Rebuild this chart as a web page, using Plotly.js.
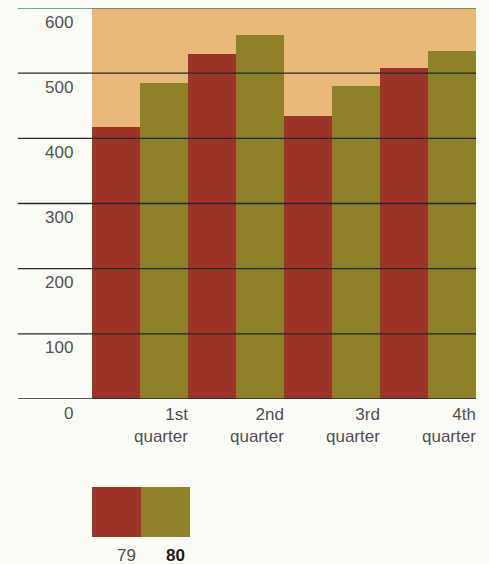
<!DOCTYPE html>
<html>
<head>
<meta charset="utf-8">
<script src="https://cdn.plot.ly/plotly-3.0.1.min.js"></script>
<style>
  html, body { margin: 0; padding: 0; background: #fcfcf7; }
  #chart { width: 489px; height: 564px; }
</style>
</head>
<body>
<div id="chart"></div>
<script>
// Quarterly figures for two years
const quarters = ['1st<br>quarter', '2nd<br>quarter', '3rd<br>quarter', '4th<br>quarter'];
const years = ['79', '80'];
const values79 = [417, 529, 434, 508];
const values80 = [485, 558, 480, 534];
const yTicks = [0, 100, 200, 300, 400, 500, 600];

const red = '#9c3428';
const olive = '#8d8229';
const tan = '#eab97a';
const textColor = '#505050';
const font = { family: 'Liberation Sans, Arial, sans-serif', size: 17, color: textColor };

const catIdx = quarters.map((q, i) => i);

const traces = [
  { type: 'bar', name: years[0], x: catIdx, y: values79, marker: { color: red, line: { width: 0 } }, hoverinfo: 'skip' },
  { type: 'bar', name: years[1], x: catIdx, y: values80, marker: { color: olive, line: { width: 0 } }, hoverinfo: 'skip' }
];

// Horizontal rules reaching out past the left edge of the plot
const gridLeft = -0.193;
const shapes = yTicks.map(v => ({
  type: 'line', xref: 'paper', yref: 'y', x0: gridLeft, x1: 1, y0: v, y1: v,
  layer: 'above',
  line: { color: v === 600 ? '#3f8465' : '#1e2a2a', width: 1.4 }
}));

// Legend swatches below the chart
const swW = 0.1276;
[red, olive].forEach((c, i) => {
  shapes.push({
    type: 'rect', xref: 'paper', yref: 'paper',
    x0: i * swW, x1: (i + 1) * swW, y0: -0.353, y1: -0.225,
    fillcolor: c, line: { width: 0 }
  });
});

const annotations = [];
// Value labels sit just beneath each rule
yTicks.forEach(v => {
  annotations.push({
    xref: 'paper', yref: 'y', x: -0.045, y: v, xanchor: 'right', yanchor: 'middle',
    yshift: -14, text: String(v), showarrow: false, font: font
  });
});
// Quarter labels aligned to the right edge of each pair of bars
quarters.forEach((q, i) => {
  annotations.push({
    xref: 'x', yref: 'paper', x: i + 0.5, y: 0, xanchor: 'right', yanchor: 'top',
    yshift: -4, xshift: 2, align: 'right', text: q, showarrow: false, font: font
  });
});
// Legend labels
years.forEach((yr, i) => {
  annotations.push({
    xref: 'paper', yref: 'paper', x: (i + 1) * swW - 0.008, y: -0.37, xanchor: 'right', yanchor: 'top',
    text: i === 1 ? '<b>' + yr + '</b>' : yr, showarrow: false,
    font: Object.assign({}, font, { color: i === 1 ? '#1a1a1a' : textColor })
  });
});

const layout = {
  width: 489, height: 564,
  margin: { l: 92, r: 13, t: 8, b: 165 },
  paper_bgcolor: '#fcfcf7',
  plot_bgcolor: tan,
  barmode: 'group', bargap: 0, bargroupgap: 0,
  showlegend: false,
  xaxis: { type: 'linear', range: [-0.5, 3.5], showticklabels: false, showgrid: false, zeroline: false, ticks: '' },
  yaxis: { range: [0, 600], showticklabels: false, showgrid: false, zeroline: false, ticks: '' },
  shapes: shapes,
  annotations: annotations,
  font: font
};

Plotly.newPlot('chart', traces, layout, { displayModeBar: false, staticPlot: true });
</script>
</body>
</html>
